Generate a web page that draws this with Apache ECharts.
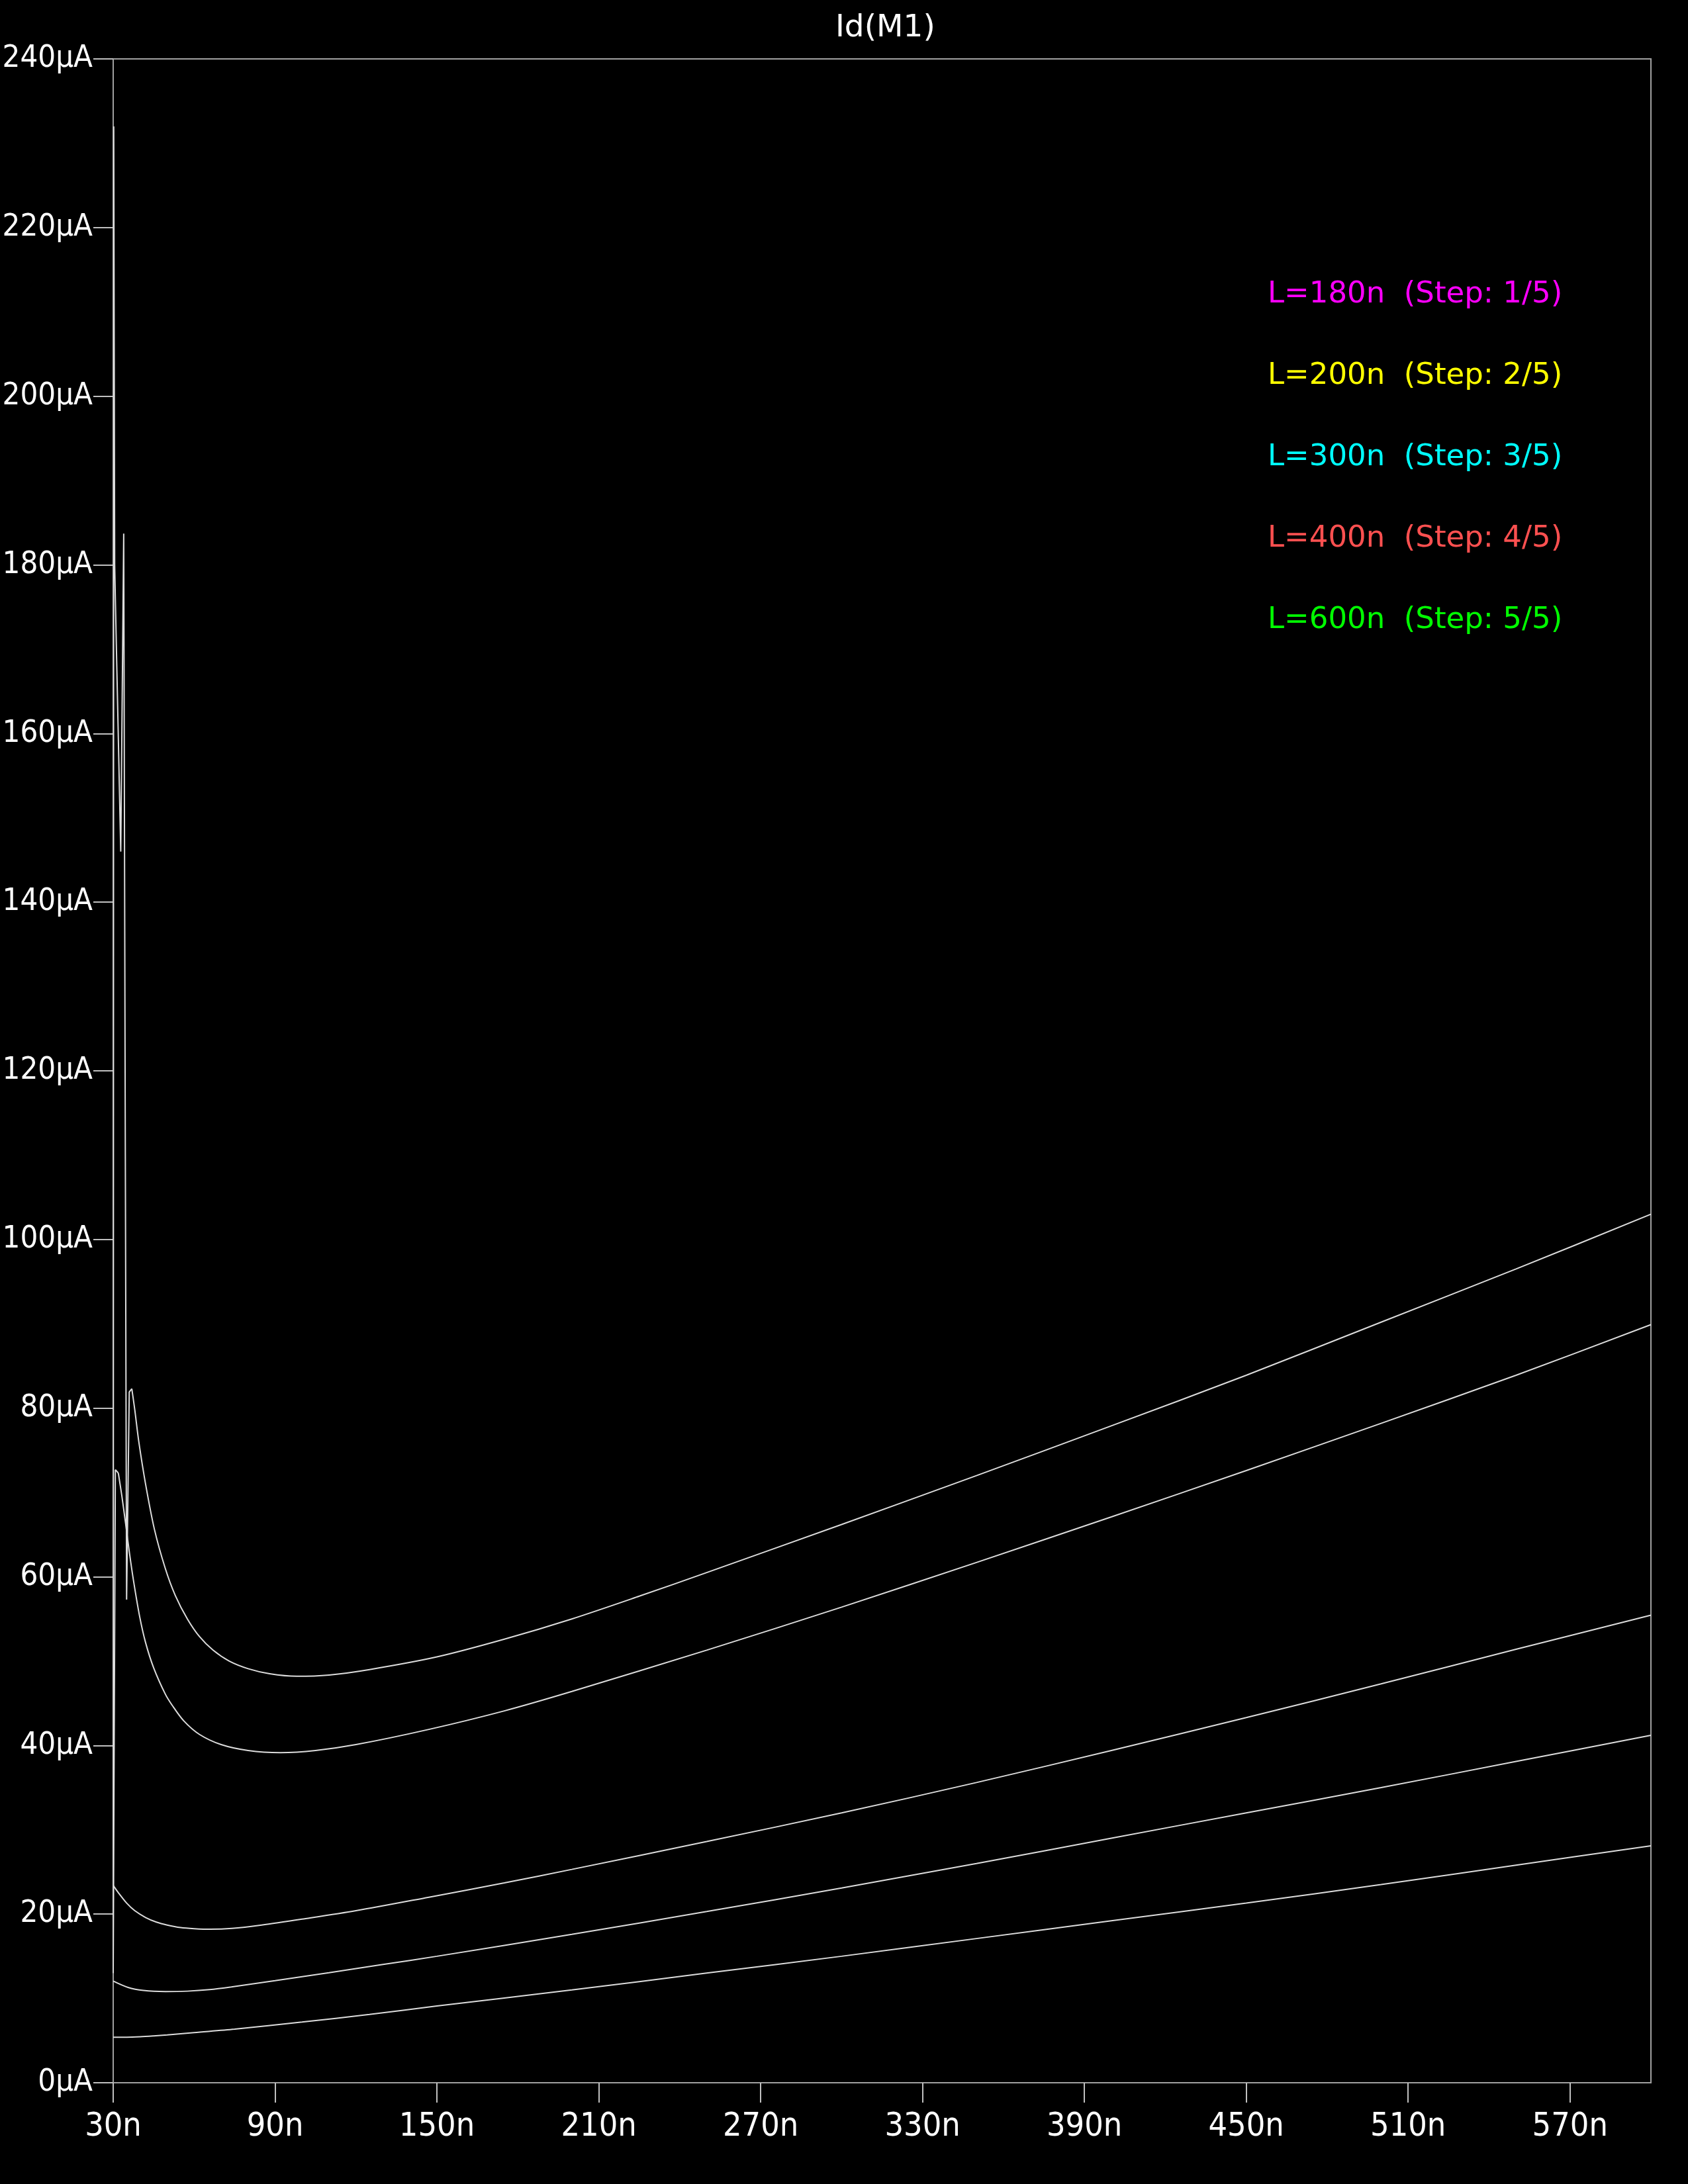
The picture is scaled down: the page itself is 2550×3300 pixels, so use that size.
<!DOCTYPE html>
<html>
<head>
<meta charset="utf-8">
<script src="https://cdn.jsdelivr.net/npm/echarts@6/dist/echarts.min.js"></script>
<style>
  html, body { margin: 0; padding: 0; background: #000; }
  #chart { width: 2550px; height: 3300px; }
</style>
</head>
<body>
<div id="chart"></div>
<script>
// x in ns, y in uA
// the start of the two short channels rings, so those parts are kept apart (drawn straight)
const L180start = [[30,13],[30.2,232],[30.55,180],[30.8,176],[32.8,146],[33.9,183.7],[34.5,110],[34.97,57.3],[35.95,81.9],[36.9,82.3]];
const L180 = [[36.9,82.3],[38,79.8],[39.5,76.0],[42,71.0],[45.3,65.6],[49.3,61.0],[53,57.8],[57.5,55.0],[62,52.9],[67,51.3],[73,50.0],[80,49.1],[88,48.5],[98,48.2],[110,48.35],[125,49.0],[150,50.5],[175,52.6],[200,55.0],[225,57.7],[250,60.5],[300,66.2],[350,72.0],[400,77.9],[450,83.9],[500,90.2],[550,96.5],[600,103.0]];
const L200start = [[30,13],[30.8,72.7],[31.9,72.3]];
const L200 = [[31.9,72.3],[33.2,69.6],[34.6,66.3],[36,62.9],[37.5,59.6],[39.8,55.3],[42,52.2],[45,49.2],[49.3,46.1],[52,44.7],[56.2,42.9],[62,41.3],[70,40.1],[80,39.4],[92,39.15],[105,39.4],[120,40.1],[147,41.9],[175,44.1],[200,46.4],[250,51.3],[300,56.4],[350,61.7],[400,67.1],[450,72.6],[500,78.2],[550,83.9],[600,89.9]];
const L300 = [[30,23.4],[32,22.5],[35,21.3],[38,20.4],[42,19.6],[46,19.05],[50,18.7],[55,18.4],[60,18.27],[66,18.2],[74,18.3],[85,18.7],[100,19.4],[120,20.4],[147,22.0],[175,23.7],[200,25.3],[250,28.6],[300,32.0],[350,35.6],[400,39.4],[450,43.3],[500,47.3],[550,51.4],[600,55.45]];
const L400 = [[30,12.05],[35.5,11.3],[41.2,10.94],[49.3,10.81],[57.5,10.86],[65.7,11.04],[73.8,11.36],[90,12.1],[110,13.05],[130,14.02],[150,15.0],[200,17.6],[250,20.3],[300,23.1],[350,26.0],[400,29.0],[450,32.0],[500,35.0],[550,38.1],[600,41.2]];
const L600 = [[30,5.4],[35,5.4],[40,5.45],[45,5.55],[50,5.67],[60,5.95],[75,6.35],[100,7.2],[125,8.1],[150,9.1],[200,11.0],[250,13.0],[300,15.0],[350,17.1],[400,19.2],[450,21.3],[500,23.5],[550,25.8],[600,28.1]];

const stepNames = ["L=180n  (Step: 1/5)", "L=200n  (Step: 2/5)", "L=300n  (Step: 3/5)", "L=400n  (Step: 4/5)", "L=600n  (Step: 5/5)"];
const stepColors = ["#ff00ff", "#ffff00", "#00ffff", "#ff5050", "#00ff00"];
const xTicks = [30, 90, 150, 210, 270, 330, 390, 450, 510, 570];

const traceColor = '#dcdcdc';
const axisFont = "'DejaVu Sans Condensed', 'DejaVu Sans', sans-serif";

function trace(name, data, smooth) {
  return {
    type: 'line', name: name, data: data,
    showSymbol: false, smooth: smooth,
    lineStyle: { color: traceColor, width: 2 },
    itemStyle: { color: traceColor }
  };
}

const chart = echarts.init(document.getElementById('chart'));
chart.setOption({
  backgroundColor: '#000',
  animation: false,
  title: {
    text: 'Id(M1)', left: 1257, top: 14,
    textStyle: { color: '#fff', fontFamily: "'DejaVu Sans', sans-serif", fontSize: 47, fontWeight: 'normal' }
  },
  legend: {
    orient: 'vertical', left: 1900, top: 415,
    itemWidth: 0, itemHeight: 10, itemGap: 73,
    selectedMode: false,
    itemStyle: { opacity: 0 }, lineStyle: { opacity: 0 },
    textStyle: { fontFamily: "'DejaVu Sans', sans-serif", fontSize: 45, lineHeight: 50 },
    data: stepNames.map((n, i) => ({ name: n, textStyle: { color: stepColors[i] } }))
  },
  grid: {
    left: 171, right: 56, top: 89, bottom: 153,
    containLabel: false, outerBoundsMode: 'none',
    show: true, borderColor: '#a0a0a0', borderWidth: 2
  },
  xAxis: {
    type: 'value', min: 30, max: 600, interval: 30,
    axisLine: { onZero: false, lineStyle: { color: '#a0a0a0', width: 2 } },
    axisTick: { show: true, customValues: xTicks, length: 30, lineStyle: { color: '#c0c0c0', width: 2 } },
    axisLabel: { customValues: xTicks, color: '#fff', fontFamily: axisFont, fontSize: 50, margin: 42, formatter: '{value}n' },
    splitLine: { show: false }
  },
  yAxis: {
    type: 'value', min: 0, max: 240, interval: 20,
    axisLine: { show: true, lineStyle: { color: '#a0a0a0', width: 2 } },
    axisTick: { show: true, length: 30, lineStyle: { color: '#c0c0c0', width: 2 } },
    axisLabel: { color: '#fff', fontFamily: axisFont, fontSize: 47, margin: 31, formatter: '{value}µA' },
    splitLine: { show: false }
  },
  series: [
    trace(stepNames[0], L180start, false),
    trace(stepNames[0], L180, 0.3),
    trace(stepNames[1], L200start, false),
    trace(stepNames[1], L200, 0.3),
    trace(stepNames[2], L300, 0.3),
    trace(stepNames[3], L400, 0.3),
    trace(stepNames[4], L600, 0.3)
  ]
});
</script>
</body>
</html>
